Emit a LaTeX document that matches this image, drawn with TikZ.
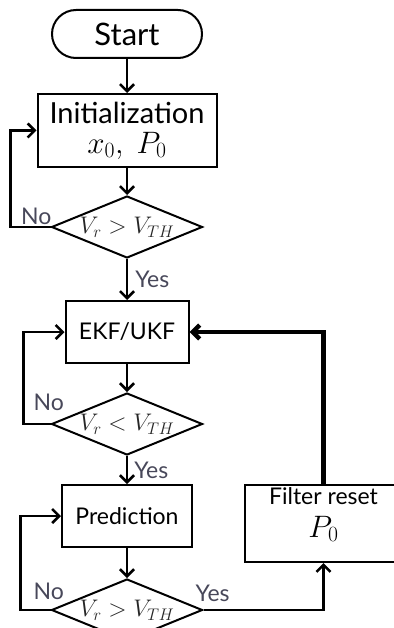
\RequirePackage{fix-cm}
\documentclass[tikz,border=0pt]{standalone}
\usepackage{fontspec}
\setmainfont{Lato}
\usetikzlibrary{shapes.geometric,arrows.meta,positioning}
\definecolor{lblgray}{RGB}{72,72,90}
\newcommand{\bigtxt}{\fontsize{31}{36}\selectfont}
\newcommand{\midtxt}{\fontsize{23}{30}\selectfont}

\begin{document}
\begin{tikzpicture}[every node/.style={font=\midtxt},
  box/.style={draw,line width=2pt,rectangle,align=center,inner sep=0pt},
  decision/.style={draw,line width=2pt,diamond,inner sep=0pt,minimum width=151pt,minimum height=62pt},
  cond/.style={font=\fontsize{24}{28}\selectfont,text=black!85},
  flow/.style={line width=2.6pt,-{Straight Barb[length=7pt,width=14pt]}},
  lbl/.style={text=lblgray,inner sep=0pt}]
\useasboundingbox (0,0) rectangle (393pt,-628pt);
% main column
\node[box,font=\bigtxt,minimum width=150pt,minimum height=48pt,rounded corners=24pt] (start) at (127pt,-34pt) {Start};
\node[box,font=\fontsize{29}{36}\selectfont,minimum width=179pt,minimum height=73pt,below=34pt of start] (init)
  {Initialization\\[-6pt] {\bigtxt $x_0,\ P_0$}};
\node[decision,below=27pt of init,label={[cond]center:$V_r > V_{TH}$}] (dec1) {};
\node[box,minimum width=123pt,minimum height=62pt,below=41pt of dec1] (ekf) {EKF/UKF};
\node[decision,below=28pt of ekf,label={[cond]center:$V_r < V_{TH}$}] (dec2) {};
\node[box,minimum width=130pt,minimum height=62pt,below=28pt of dec2] (pred) {Prediction};
\node[decision,below=30pt of pred,label={[cond]center:$V_r > V_{TH}$}] (dec3) {};
% reset branch, text sits a bit above the middle
\node[box,minimum width=157pt,minimum height=77pt,anchor=north west,
  label={[align=center,yshift=9pt]center:Filter reset\\[3pt] {\bigtxt $P_0$}}] (reset) at ([xshift=51pt]pred.north east) {};

\draw[flow] (start) -- (init);
\draw[flow] (init) -- (dec1);
\draw[flow] (dec1) -- node[lbl,right=7pt] (yes1) {Yes} (ekf);
\draw[flow] (ekf) -- (dec2);
\draw[flow] (dec2) -- node[lbl,right=6pt] (yes2) {Yes} (pred);
\draw[flow] (pred) -- (dec3);
\draw[flow] (dec1.west) -- ++(-40pt,0) |- (init.west);
\draw[flow] (dec2.west) -- ++(-27pt,0) |- (ekf.west);
\draw[flow] (dec3.west) -- ++(-30pt,0) |- (pred.west);
\draw[flow] (dec3.east) -| (reset.south);
\draw[flow,line width=4.5pt] (reset.north) |- (ekf.east);

\node[lbl,anchor=base east] (no1) at ([xshift=1pt,yshift=2pt]dec1.west) {No};
\node[lbl,anchor=base west] (no2) at ([xshift=-17pt,yshift=14pt]dec2.west) {No};
\node[lbl,anchor=base west] (no3) at ([xshift=-17pt,yshift=11pt]dec3.west) {No};
\node[lbl,anchor=base west] (yes3) at ([xshift=-8pt,yshift=9pt]dec3.east) {Yes};
\end{tikzpicture}
\end{document}
